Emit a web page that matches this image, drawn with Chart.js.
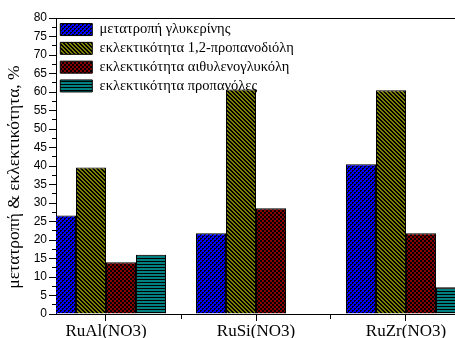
<!DOCTYPE html>
<html>
<head>
<meta charset="utf-8">
<script src="https://cdn.jsdelivr.net/npm/chart.js@4"></script>
<style>
  html, body { margin: 0; padding: 0; background: #fff; overflow: hidden; }
  canvas { display: block; }
</style>
</head>
<body>
<canvas id="chart" width="455" height="338"></canvas>
<script>
// Catalysts (x categories)
const categories = ['RuAl(NO3)', 'RuSi(NO3)', 'RuZr(NO3)'];

// Series names (legend)
const seriesNames = [
  'μετατροπή γλυκερίνης',
  'εκλεκτικότητα 1,2-προπανοδιόλη',
  'εκλεκτικότητα αιθυλενογλυκόλη',
  'εκλεκτικότητα προπανόλες'
];

// Values, % (one entry per catalyst)
const conversion        = [26.6, 21.8, 40.5];
const selPropanediol    = [39.6, 60.7, 60.5];
const selEthyleneGlycol = [14.0, 28.6, 21.8];
const selPropanols      = [16.0, 0.0, 7.2];

// Y axis: labelled every 5, minor ticks every 2.5
const yLabelStep = 5;
const yMinorStep = 2.5;
const yMin = 0;
const yMax = 80;

const yTitle = 'μετατροπή & εκλεκτικότητα, %';

// ---- hatch fills ----
function hatch(size, bg, isInk) {
  const c = document.createElement('canvas');
  c.width = size; c.height = size;
  const g = c.getContext('2d');
  g.fillStyle = bg;
  g.fillRect(0, 0, size, size);
  g.fillStyle = '#000';
  for (let y = 0; y < size; y++) {
    for (let x = 0; x < size; x++) {
      if (isInk(x, y)) g.fillRect(x, y, 1, 1);
    }
  }
  return document.getElementById('chart').getContext('2d').createPattern(c, 'repeat');
}

const fills = [
  hatch(4, '#0000ff', (x, y) => (x + y) % 4 === 3 || (x + y) % 4 === 2 && x % 2 === 0), // ///
  hatch(4, '#808000', (x, y) => ((x - y + 8) % 4) < 2),                                  // \\\
  hatch(4, '#8a0000', (x, y) => ((Math.floor(x / 2) + Math.floor(y / 2)) % 2) === 0),     // checker
  hatch(3, '#008080', (x, y) => y % 3 === 0)                                             // horizontal
];

const seriesValues = [conversion, selPropanediol, selEthyleneGlycol, selPropanols];

const datasets = seriesValues.map((vals, i) => ({
  label: seriesNames[i],
  data: vals.map((v, j) => ({ x: j + 1, y: v })),
  backgroundColor: fills[i],
  borderColor: '#000',
  borderWidth: 1,
  borderSkipped: 'start',
  // tick spacing is half a category, so the group spans 1.6 of it (0.8 of a category)
  categoryPercentage: 1.6,
  barPercentage: 1.0,
  clip: 0
}));

const xMin = 1 - 50 / 150;
const xMax = 3 + 49 / 150;

const yTickValues = [];
for (let v = yMin; v <= yMax + 1e-9; v += yMinorStep) yTickValues.push(v);

const isWhole = v => Math.abs(v - Math.round(v)) < 1e-6;

// keep the in-plot legend below the top frame line
const legendInPlot = {
  id: 'legendInPlot',
  afterLayout(chart) {
    const lg = chart.legend;
    if (!lg) return;
    const h = lg.height;
    lg.top = chart.chartArea.top;
    lg.bottom = lg.top + h;
  }
};

// rotated y-axis title, set a little below the axis middle
const yAxisTitle = {
  id: 'yAxisTitle',
  afterDraw(chart) {
    const { ctx, chartArea } = chart;
    ctx.save();
    ctx.translate(14, (chartArea.top + chartArea.bottom) / 2 + 11);
    ctx.rotate(-Math.PI / 2);
    ctx.font = '17.5px "Liberation Serif"';
    ctx.fillStyle = '#000';
    ctx.textAlign = 'center';
    ctx.textBaseline = 'middle';
    ctx.fillText(yTitle, 0, 0);
    ctx.restore();
  }
};

new Chart(document.getElementById('chart'), {
  type: 'bar',
  data: { datasets },
  plugins: [legendInPlot, yAxisTitle],
  options: {
    responsive: false,
    animation: false,
    layout: { padding: { top: 18, left: 0, right: 0, bottom: 0 } },
    plugins: {
      tooltip: { enabled: false },
      legend: {
        position: 'chartArea',
        align: 'start',
        padding: 4,
        labels: {
          boxWidth: 32,
          boxHeight: 12,
          padding: 4.3,
          color: '#000',
          font: { family: 'Liberation Serif', size: 14.5 }
        }
      }
    },
    scales: {
      x: {
        type: 'linear',
        position: 'bottom',
        offset: false,
        min: xMin,
        max: xMax,
        afterBuildTicks: s => { s.ticks = [1, 1.5, 2, 2.5, 3].map(v => ({ value: v })); },
        afterFit: s => { s.height = 24; },
        ticks: {
          autoSkip: false,
          maxRotation: 0,
          padding: 0,
          color: '#000',
          font: { family: 'Liberation Serif', size: 17 },
          callback: v => isWhole(v) ? categories[Math.round(v) - 1] : ''
        },
        grid: {
          offset: false,
          drawOnChartArea: false,
          color: '#000',
          tickLength: 7,
          tickBorderDash: c => (c.tick && isWhole(c.tick.value)) ? [] : [4, 20]
        },
        border: { color: '#000', width: 1 }
      },
      xTop: {
        type: 'linear',
        position: 'top',
        offset: false,
        min: xMin,
        max: xMax,
        afterFit: s => { s.height = 0; },
        ticks: { display: false },
        grid: { display: false },
        border: { display: true, color: '#000', width: 1 }
      },
      y: {
        min: yMin,
        max: yMax,
        afterBuildTicks: s => { s.ticks = yTickValues.map(v => ({ value: v })); },
        afterFit: s => { s.width = 56; },
        ticks: {
          autoSkip: false,
          padding: 2,
          color: '#000',
          font: { family: 'Liberation Sans', size: 12 },
          callback: v => (Math.abs(v % yLabelStep) < 1e-6) ? String(v) : ''
        },
        grid: {
          drawOnChartArea: false,
          color: '#000',
          tickLength: 7,
          tickBorderDash: c => (c.tick && Math.abs(c.tick.value % yLabelStep) < 1e-6) ? [] : [0, 3, 20]
        },
        border: { color: '#000', width: 1 },
        title: { display: false }
      }
    }
  }
});
</script>
</body>
</html>
